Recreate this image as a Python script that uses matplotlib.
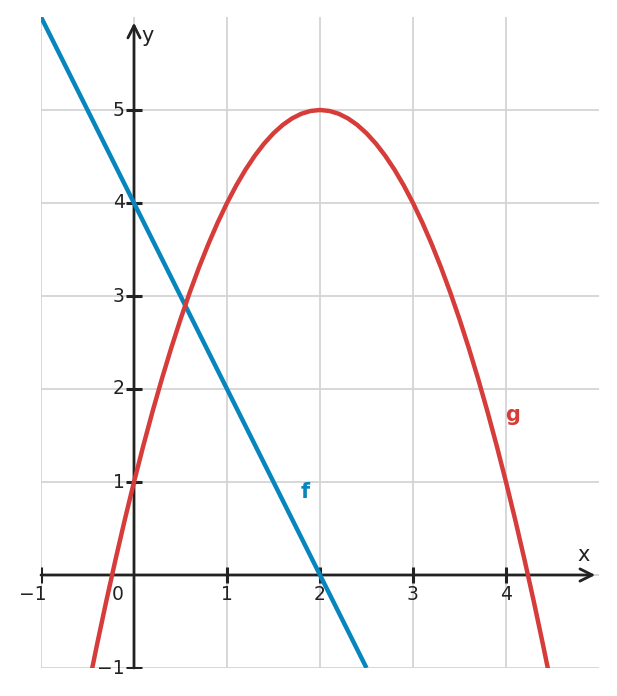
import numpy as np
import matplotlib.pyplot as plt

# line f, read at its ends
f_x = [-1.0, 2.5]
f_y = [6.0, -1.0]

# parabola g, points
g_x = [-0.6, -0.5, -0.4, -0.3, -0.2, -0.1, 0.0, 0.1, 0.2, 0.3, 0.4, 0.5, 0.6, 0.7, 0.8,
       0.9, 1.0, 1.1, 1.2, 1.3, 1.4, 1.5, 1.6, 1.7, 1.8, 1.9, 2.0, 2.1, 2.2, 2.3, 2.4,
       2.5, 2.6, 2.7, 2.8, 2.9, 3.0, 3.1, 3.2, 3.3, 3.4, 3.5, 3.6, 3.7, 3.8, 3.9, 4.0,
       4.1, 4.2, 4.3, 4.4, 4.5, 4.6]
g_y = [-1.76, -1.25, -0.76, -0.29, 0.16, 0.59, 1.0, 1.39, 1.76, 2.11, 2.44, 2.75, 3.04,
       3.31, 3.56, 3.79, 4.0, 4.19, 4.36, 4.51, 4.64, 4.75, 4.84, 4.91, 4.96, 4.99, 5.0,
       4.99, 4.96, 4.91, 4.84, 4.75, 4.64, 4.51, 4.36, 4.19, 4.0, 3.79, 3.56, 3.31, 3.04,
       2.75, 2.44, 2.11, 1.76, 1.39, 1.0, 0.59, 0.16, -0.29, -0.76, -1.25, -1.76]

x_ticks = [-1, 1, 2, 3, 4]
y_ticks = [-1, 1, 2, 3, 4, 5]
x_labels = ['\u22121', '1', '2', '3', '4']
y_labels = ['\u22121', '1', '2', '3', '4', '5']

blue = '#0786bd'
red = '#d63c39'
dark = '#222222'

fig = plt.figure(figsize=(6.17, 6.96), dpi=100)
ax = fig.add_axes([41 / 617, 28 / 696, 558 / 617, 651 / 696])
ax.set_xlim(-1, 5)
ax.set_ylim(-1, 6)
for s in ax.spines.values():
    s.set_visible(False)
ax.set_xticks([-1, 0, 1, 2, 3, 4])
ax.set_yticks([-1, 0, 1, 2, 3, 4, 5])
ax.tick_params(length=0, labelbottom=False, labelleft=False)
ax.grid(True, color='#d4d4d4', lw=1.3)

ax.plot(f_x, f_y, color=blue, lw=3.2, solid_capstyle='butt', zorder=4)
ax.plot(g_x, g_y, color=red, lw=3.2, zorder=4)

# axes with arrows
ax.annotate('', xy=(4.96, 0), xytext=(-1, 0),
            arrowprops=dict(arrowstyle='->', lw=2, color=dark, mutation_scale=22,
                            shrinkA=0, shrinkB=0), zorder=3)
ax.annotate('', xy=(0, 5.94), xytext=(0, -1),
            arrowprops=dict(arrowstyle='->', lw=2, color=dark, mutation_scale=22,
                            shrinkA=0, shrinkB=0), zorder=3)
ax.plot(x_ticks, [0] * len(x_ticks), ls='none', marker='|', ms=11, mew=2.2, color=dark, zorder=3)
ax.plot([0] * len(y_ticks), y_ticks, ls='none', marker='_', ms=12, mew=2.2, color=dark, zorder=3)

for t, lab in zip(x_ticks, x_labels):
    xx = t - 0.085 if t < 0 else t
    ax.text(xx, -0.21, lab, ha='center', va='center', fontsize=13.5, color=dark)
for t, lab in zip(y_ticks, y_labels):
    ax.text(-0.1, t, lab, ha='right', va='center', fontsize=13.5, color=dark)
ax.text(-0.18, -0.21, '0', ha='center', va='center', fontsize=13.5, color=dark)

ax.text(4.83, 0.215, 'x', ha='center', va='center', fontsize=15, color=dark)
ax.text(0.15, 5.8, 'y', ha='center', va='center', fontsize=15, color=dark)
ax.text(1.84, 0.89, 'f', ha='center', va='center', fontsize=15, fontweight='bold', color=blue)
ax.text(4.075, 1.72, 'g', ha='center', va='center', fontsize=15, fontweight='bold', color=red)

fig.savefig('out.png', dpi=100)
